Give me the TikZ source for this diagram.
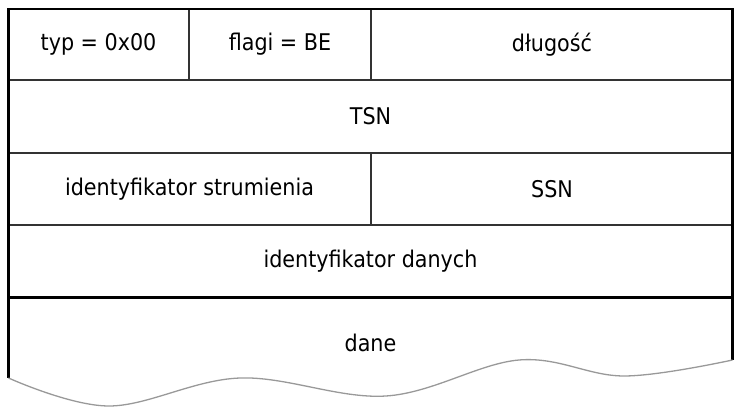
\documentclass[tikz,border=0pt]{standalone}
\usepackage{fontspec}
\setmainfont{DejaVu Sans Condensed}
\begin{document}
\begin{tikzpicture}[x=1pt,y=-1pt,
  cell/.style={draw=black!80, line width=1.1pt, rectangle, inner sep=0pt,
    font=\fontsize{23}{26}\selectfont},
  label/.style={inner sep=0pt, font=\fontsize{23}{26}\selectfont},
  frame/.style={draw=black, line width=2.4pt},
  wave/.style={draw=black!40, line width=1.3pt}]
\useasboundingbox (0,0) rectangle (750,411);
% header row
\node[cell, minimum width=181pt, minimum height=71pt] (typ) at (98.5,44.5) {typ = 0x00};
\node[cell, minimum width=182pt, minimum height=71pt] (flagi) at (280,44.5) {flagi = BE};
\node[cell, minimum width=362pt, minimum height=71pt] (dlug) at (552,44.5) {długość};
% TSN
\node[cell, minimum width=724pt, minimum height=73pt] (tsn) at (370.5,116.5) {TSN};
% stream id / SSN
\node[cell, minimum width=363pt, minimum height=72pt] (sid) at (189.5,189) {identyfikator strumienia};
\node[cell, minimum width=361pt, minimum height=72pt] (ssn) at (552,189) {SSN};
% payload id
\node[cell, minimum width=724pt, minimum height=72pt] (pid) at (370.5,261) {identyfikator danych};
% data
\node[label] (dane) at (370.5,343) {dane};
% outer frame
\coordinate (bl) at (8.5,378);
\coordinate (br) at (732.5,360);
\draw[frame] (bl) -- (8.5,9) -- (732.5,9) -- (br);
\draw[frame] (pid.south west) -- (pid.south east);
% torn lower edge
\draw[wave] plot[smooth, tension=0.6] coordinates
  {(bl) (109,406) (240,378) (386,396) (519,360) (624,376) (br)};
\end{tikzpicture}
\end{document}
